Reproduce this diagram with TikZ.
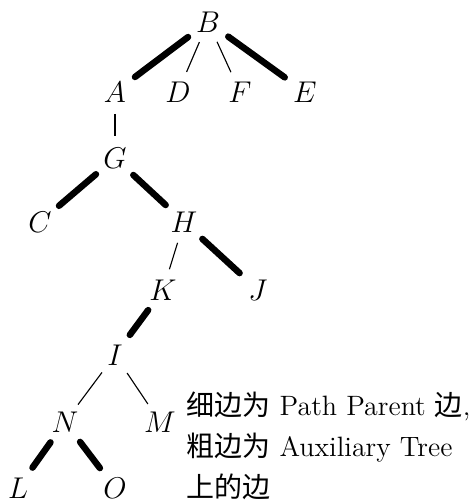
\documentclass[tikz,border=0pt]{standalone}
\usepackage{fontspec}
\newfontfamily\cjk{Noto Sans CJK SC}
\begin{document}
\begin{tikzpicture}[x=0.4pt,y=-0.4pt,
  v/.style={inner sep=0pt, minimum size=17pt, circle, font=\fontsize{12.5}{15}\selectfont},
  thin edge/.style={line width=0.45pt},
  thick edge/.style={line width=2.6pt, line cap=round, shorten <=1.3pt, shorten >=1.3pt}]
\useasboundingbox (0,0) rectangle (476,503);
\node[v] (B) at (208,22) {$B$};
\node[v] (A) at (115,92) {$A$};
\node[v] (D) at (178,92) {$D$};
\node[v] (F) at (240,92) {$F$};
\node[v] (E) at (305,92) {$E$};
\node[v] (G) at (115,158) {$G$};
\node[v] (C) at (40,222) {$C$};
\node[v] (H) at (184,222) {$H$};
\node[v] (K) at (163,290) {$K$};
\node[v] (J) at (258,290) {$J$};
\node[v] (I) at (115,355) {$I$};
\node[v] (N) at (65,422) {$N$};
\node[v] (M) at (160,422) {$M$};
\node[v] (L) at (18,488) {$L$};
\node[v] (O) at (115,488) {$O$};
\draw[thick edge] (B) -- (A);
\draw[thin edge] (B) -- (D);
\draw[thin edge] (B) -- (F);
\draw[thick edge] (B) -- (E);
\draw[thin edge] (A) -- (G);
\draw[thick edge] (G) -- (C);
\draw[thick edge] (G) -- (H);
\draw[thin edge] (H) -- (K);
\draw[thick edge] (H) -- (J);
\draw[thick edge] (K) -- (I);
\draw[thin edge] (I) -- (N);
\draw[thin edge] (I) -- (M);
\draw[thick edge] (N) -- (L);
\draw[thick edge] (N) -- (O);
\node[anchor=north west, align=left, inner sep=0pt, font=\fontsize{11.2}{16.5}\selectfont] (T) at (186,391)
  {{\cjk 细边为} Path Parent {\cjk 边},\\ {\cjk 粗边为} Auxiliary Tree\\ {\cjk 上的边}};
\end{tikzpicture}
\end{document}
